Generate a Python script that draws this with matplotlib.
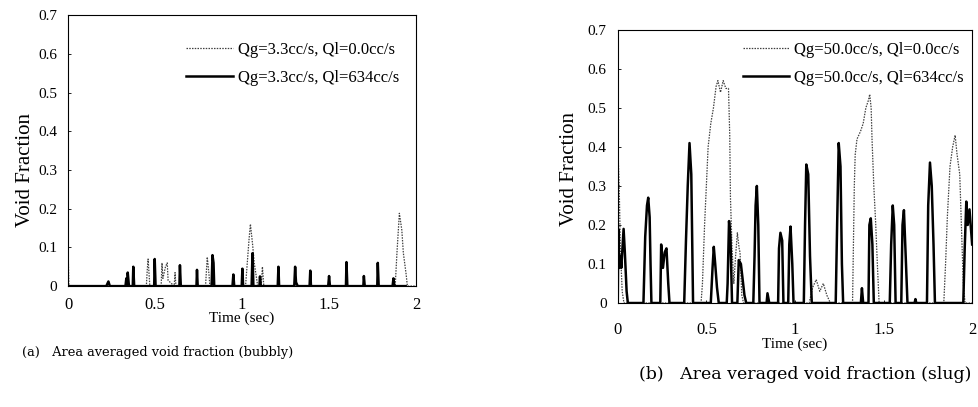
import numpy as np
import matplotlib
matplotlib.use("Agg")
import matplotlib.pyplot as plt

plt.rcParams['font.family'] = ['Liberation Serif', 'DejaVu Serif']

# (a) bubbly: Qg=3.3cc/s
bub_t_liq = [0.00, 0.22, 0.232, 0.24, 0.33, 0.335, 0.34, 0.343, 0.35, 0.372, 0.375, 0.38,
             0.495, 0.498, 0.503, 0.64, 0.643, 0.648, 0.738, 0.741, 0.745, 0.825, 0.83,
             0.836, 0.84, 0.945, 0.95, 0.955, 0.998, 1.002, 1.006, 1.055, 1.06, 1.065,
             1.10, 1.103, 1.108, 1.205, 1.209, 1.213, 1.30, 1.305, 1.31, 1.32, 1.388,
             1.392, 1.396, 1.495, 1.50, 1.505, 1.597, 1.60, 1.605, 1.697, 1.70, 1.705,
             1.777, 1.78, 1.785, 1.865, 1.87, 1.875, 1.94]
bub_v_liq = [0.0, 0.0, 0.012, 0.0, 0.0, 0.02, 0.0, 0.035, 0.0, 0.0, 0.05, 0.0,
             0.0, 0.07, 0.0, 0.0, 0.054, 0.0, 0.0, 0.042, 0.0, 0.0, 0.08,
             0.06, 0.0, 0.0, 0.03, 0.0, 0.0, 0.045, 0.0, 0.0, 0.085, 0.0,
             0.0, 0.025, 0.0, 0.0, 0.05, 0.0, 0.0, 0.05, 0.01, 0.0, 0.0,
             0.04, 0.0, 0.0, 0.026, 0.0, 0.0, 0.062, 0.0, 0.0, 0.026, 0.0,
             0.0, 0.06, 0.0, 0.0, 0.02, 0.0, 0.0]
bub_t_gas = [0.0, 0.005, 0.45, 0.455, 0.46, 0.47, 0.535, 0.54, 0.545, 0.56, 0.57, 0.575,
             0.61, 0.615, 0.62, 0.79, 0.80, 0.81, 0.815, 1.02, 1.03, 1.04, 1.048, 1.06,
             1.07, 1.08, 1.09, 1.11, 1.117, 1.125, 1.88, 1.89, 1.904, 1.918, 1.927,
             1.943, 1.95, 2.0]
bub_v_gas = [0.1, 0.0, 0.0, 0.04, 0.07, 0.0, 0.0, 0.06, 0.02, 0.05, 0.06, 0.015,
             0.0, 0.035, 0.0, 0.0, 0.075, 0.03, 0.0, 0.0, 0.06, 0.12, 0.16, 0.11,
             0.06, 0.03, 0.0, 0.0, 0.05, 0.0, 0.0, 0.085, 0.188, 0.145, 0.085,
             0.03, 0.0, 0.0]

# (b) slug: Qg=50.0cc/s
slug_t_liq = [0.0, 0.003, 0.008, 0.015, 0.02, 0.033, 0.04, 0.05, 0.057,
              0.145, 0.155, 0.165, 0.172, 0.18, 0.185, 0.19,
              0.24, 0.245, 0.255, 0.265, 0.275, 0.285, 0.292,
              0.375, 0.385, 0.395, 0.405, 0.415, 0.425,
              0.525, 0.535, 0.542, 0.55, 0.56, 0.57,
              0.615, 0.62, 0.628, 0.636, 0.645,
              0.675, 0.683, 0.695, 0.705, 0.715, 0.725,
              0.765, 0.772, 0.778, 0.785, 0.793, 0.8,
              0.84, 0.845, 0.855,
              0.905, 0.91, 0.918, 0.928, 0.935,
              0.962, 0.968, 0.975, 0.985, 0.992,
              1.05, 1.057, 1.064, 1.075, 1.085, 1.095,
              1.23, 1.238, 1.247, 1.257, 1.265, 1.272,
              1.372, 1.378, 1.385,
              1.415, 1.42, 1.428, 1.437, 1.445,
              1.535, 1.543, 1.552, 1.56, 1.568,
              1.6, 1.607, 1.615, 1.625, 1.635,
              1.675, 1.68, 1.685,
              1.745, 1.752, 1.762, 1.772, 1.782, 1.79,
              1.95, 1.958, 1.967, 1.975, 1.985, 2.0]
slug_v_liq = [0.0, 0.19, 0.09, 0.12, 0.09, 0.19, 0.13, 0.03, 0.0,
              0.0, 0.17, 0.25, 0.27, 0.22, 0.1, 0.0,
              0.0, 0.15, 0.09, 0.13, 0.14, 0.05, 0.0,
              0.0, 0.16, 0.3, 0.41, 0.33, 0.0,
              0.0, 0.09, 0.144, 0.1, 0.04, 0.0,
              0.0, 0.05, 0.21, 0.17, 0.0,
              0.0, 0.11, 0.1, 0.06, 0.02, 0.0,
              0.0, 0.12, 0.25, 0.3, 0.2, 0.0,
              0.0, 0.025, 0.0,
              0.0, 0.14, 0.18, 0.16, 0.0,
              0.0, 0.15, 0.196, 0.1, 0.0,
              0.0, 0.2, 0.355, 0.33, 0.12, 0.0,
              0.0, 0.2, 0.41, 0.35, 0.1, 0.0,
              0.0, 0.038, 0.0,
              0.0, 0.2, 0.217, 0.15, 0.0,
              0.0, 0.15, 0.25, 0.2, 0.0,
              0.0, 0.2, 0.238, 0.12, 0.0,
              0.0, 0.01, 0.0,
              0.0, 0.25, 0.36, 0.3, 0.15, 0.0,
              0.0, 0.14, 0.26, 0.2, 0.24, 0.15]
slug_t_gas = [0.0, 0.002, 0.008, 0.015, 0.025, 0.035,
              0.47, 0.478, 0.49, 0.5, 0.51, 0.525, 0.54, 0.555, 0.565, 0.58, 0.595,
              0.61, 0.625, 0.632, 0.636, 0.645, 0.655, 0.665, 0.675, 0.685, 0.69,
              0.70, 0.71,
              1.08, 1.1, 1.12, 1.14, 1.16, 1.18, 1.2,
              1.325, 1.335, 1.34, 1.35, 1.37, 1.385, 1.4, 1.415, 1.422, 1.43, 1.435,
              1.445, 1.455, 1.465, 1.475,
              1.84, 1.85, 1.86, 1.875, 1.89, 1.904, 1.915, 1.93, 1.94, 1.95, 1.96, 2.0]
slug_v_gas = [0.67, 0.38, 0.3, 0.14, 0.03, 0.0,
              0.0, 0.05, 0.2, 0.3, 0.4, 0.46, 0.5, 0.555, 0.57, 0.54, 0.57,
              0.55, 0.55, 0.43, 0.27, 0.14, 0.05, 0.12, 0.18, 0.14, 0.13,
              0.02, 0.0,
              0.0, 0.04, 0.06, 0.03, 0.05, 0.02, 0.0,
              0.0, 0.3, 0.38, 0.42, 0.44, 0.46, 0.5, 0.52, 0.535, 0.5, 0.42,
              0.3, 0.21, 0.1, 0.0,
              0.0, 0.1, 0.22, 0.35, 0.4, 0.43, 0.38, 0.33, 0.19, 0.05, 0.0, 0.0]

xticks = [0, 0.5, 1, 1.5, 2]
xticklabels = ['0', '0.5', '1', '1.5', '2']
yticks = [0, 0.1, 0.2, 0.3, 0.4, 0.5, 0.6, 0.7]
yticklabels = ['0', '0.1', '0.2', '0.3', '0.4', '0.5', '0.6', '0.7']

fig = plt.figure(figsize=(9.79, 4.07), dpi=100)
ax1 = fig.add_axes([0.0695, 0.297, 0.3555, 0.666])
ax2 = fig.add_axes([0.631, 0.2555, 0.362, 0.671])

panels = [
    (ax1, bub_t_gas, bub_v_gas, bub_t_liq, bub_v_liq,
     'Qg=3.3cc/s, Ql=0.0cc/s', 'Qg=3.3cc/s, Ql=634cc/s', 8, (0.985, 0.945)),
    (ax2, slug_t_gas, slug_v_gas, slug_t_liq, slug_v_liq,
     'Qg=50.0cc/s, Ql=0.0cc/s', 'Qg=50.0cc/s, Ql=634cc/s', 14, (1.01, 1.0)),
]

for ax, tg, vg, tl, vl, lab_g, lab_l, pad, anchor in panels:
    ax.plot(tg, vg, color='0.25', lw=0.9, ls=(0, (1.2, 1.0)), label=lab_g)
    ax.plot(tl, vl, color='black', lw=1.8, label=lab_l)
    ax.set_xlim(0, 2)
    ax.set_ylim(0, 0.7)
    ax.set_xticks(xticks)
    ax.set_xticklabels(xticklabels)
    ax.set_yticks(yticks)
    ax.set_yticklabels(yticklabels)
    ax.tick_params(direction='in', length=2, width=0.6, labelsize=12)
    ax.tick_params(axis='x', pad=pad)
    ax.tick_params(axis='y', pad=8, labelsize=11)
    for s in ax.spines.values():
        s.set_linewidth(0.8)
    ax.set_xlabel('Time (sec)', fontsize=11, labelpad=-1)
    ax.legend(loc='upper right', bbox_to_anchor=anchor, frameon=False, fontsize=12,
              handlelength=2.8, handletextpad=0.3, labelspacing=0.75, borderaxespad=0.3)

ax1.set_ylabel('Void Fraction', fontsize=15)
ax2.set_ylabel('Void Fraction', fontsize=15)
ax1.yaxis.set_label_coords(-0.095, 0.43)
ax2.yaxis.set_label_coords(-0.11, 0.49)

fig.text(0.022, 0.135, '(a)   Area averaged void fraction (bubbly)',
         family='DejaVu Serif', fontsize=9.3, va='center')
fig.text(0.653, 0.079, '(b)   Area veraged void fraction (slug)',
         family='DejaVu Serif', fontsize=12.5, va='center')

fig.savefig('out.png', dpi=100)
